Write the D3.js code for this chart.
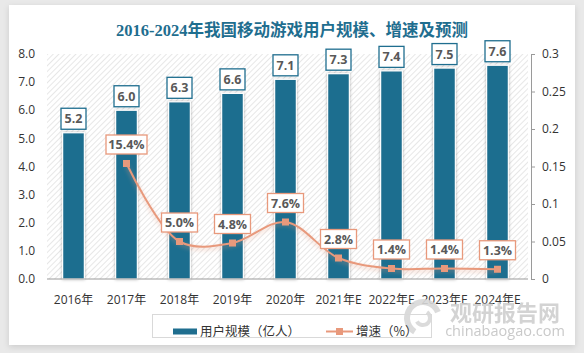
<!DOCTYPE html>
<html>
<head>
<meta charset="utf-8">
<script src="https://cdn.jsdelivr.net/npm/d3@7"></script>
<style>
  body { margin: 0; background: #e9e9e9; }
  svg { display: block; }
</style>
</head>
<body>
<svg id="chart" width="584" height="353"></svg>
<script>
var categories = ["2016年", "2017年", "2018年", "2019年", "2020年", "2021年E", "2022年E", "2023年E", "2024年E"];
var users = [5.2, 6.0, 6.3, 6.6, 7.1, 7.3, 7.4, 7.5, 7.6];
var growth = [null, 0.154, 0.050, 0.048, 0.076, 0.028, 0.014, 0.014, 0.013];
var growth_labels = [null, "15.4%", "5.0%", "4.8%", "7.6%", "2.8%", "1.4%", "1.4%", "1.3%"];
var left_ticks = [0, 1, 2, 3, 4, 5, 6, 7, 8];
var right_ticks = [0, 0.05, 0.1, 0.15, 0.2, 0.25, 0.3];

var bar_color = "#1f6e8f",
  line_color = "#e8997c",
  label_color = "#595959";

var margin = {top: 54, right: 54, bottom: 74, left: 47},
  width = 584 - margin.left - margin.right,
  height = 353 - margin.top - margin.bottom;

var svg = d3.select("#chart");
var defs = svg.append("defs");

var pattern = defs.append("pattern")
  .attr("id", "hatch")
  .attr("patternUnits", "userSpaceOnUse")
  .attr("width", 4)
  .attr("height", 4)
  .attr("patternTransform", "rotate(45)");
pattern.append("rect").attr("width", 4).attr("height", 4).attr("fill", "#fff");
pattern.append("line")
  .attr("x1", 0).attr("y1", 0).attr("x2", 0).attr("y2", 4)
  .attr("stroke", "#d4d4d4").attr("stroke-width", 1.1);

var shadow = defs.append("filter").attr("id", "shadow")
  .attr("x", "-30%").attr("y", "-10%").attr("width", "160%").attr("height", "120%");
shadow.append("feDropShadow").attr("dx", 0).attr("dy", 0).attr("stdDeviation", 1.5)
  .attr("flood-color", "#000").attr("flood-opacity", 0.3);

var glow = defs.append("filter").attr("id", "glow")
  .attr("x", "-10%").attr("y", "-10%").attr("width", "120%").attr("height", "130%");
glow.append("feDropShadow").attr("dx", 0).attr("dy", 2).attr("stdDeviation", 2)
  .attr("flood-color", line_color).attr("flood-opacity", 0.5);

// white card
svg.append("rect")
  .attr("x", 9).attr("y", 5).attr("width", 566).attr("height", 340)
  .attr("fill", "#fff")
  .style("filter", "drop-shadow(0px 2px 3px rgba(0,0,0,0.12))");

svg.append("text")
  .attr("x", 292)
  .attr("y", 36)
  .attr("text-anchor", "middle")
  .style("font", "bold 16.5px 'Liberation Serif', 'Noto Sans CJK SC', serif")
  .style("fill", bar_color)
  .text("2016-2024年我国移动游戏用户规模、增速及预测");

var chart = svg.append("g")
  .attr("transform", "translate(" + margin.left + "," + margin.top + ")");

var x_scaler = d3.scaleBand()
  .domain(categories)
  .range([0, width - 6])
  .paddingInner(0.59)
  .paddingOuter(0.295);

var y_scaler = d3.scaleLinear().domain([0, 8]).range([height, 0]);
var y2_scaler = d3.scaleLinear().domain([0, 0.3]).range([height, 0]);

chart.append("rect")
  .attr("x", 0).attr("y", 0)
  .attr("width", width - 2).attr("height", height)
  .attr("fill", "url(#hatch)");

// left axis labels
chart.selectAll(".ylab")
  .data(left_ticks)
  .enter().append("text")
  .attr("class", "ylab")
  .attr("x", -12)
  .attr("y", function(d) { return y_scaler(d); })
  .attr("dy", "0.35em")
  .attr("text-anchor", "end")
  .style("font", "12px 'Open Sans', 'Liberation Sans', sans-serif")
  .style("fill", "#333")
  .text(function(d) { return d3.format(".1f")(d); });

// right axis
var right_axis = chart.append("g")
  .attr("transform", "translate(" + (width + 1) + ",0)")
  .call(d3.axisRight(y2_scaler).tickValues(right_ticks).tickSize(4).tickPadding(7)
    .tickFormat(function(d) { return d === 0 ? "0" : d3.format("")(+d.toFixed(2)); }));
right_axis.select(".domain").attr("stroke", "#9a9a9a");
right_axis.selectAll(".tick line").attr("stroke", "#9a9a9a");
right_axis.selectAll("text")
  .style("font", "12px 'Open Sans', 'Liberation Sans', sans-serif")
  .style("fill", "#333");

// bars
chart.selectAll(".bar")
  .data(users)
  .enter().append("rect")
  .attr("class", "bar")
  .attr("x", function(d, i) { return x_scaler(categories[i]); })
  .attr("y", function(d) { return y_scaler(d); })
  .attr("width", x_scaler.bandwidth())
  .attr("height", function(d) { return height - y_scaler(d); })
  .style("fill", bar_color)
  .style("stroke", "#fff")
  .style("stroke-width", 1.2)
  .style("filter", "url(#shadow)");

// x axis line
chart.append("line")
  .attr("x1", 0).attr("x2", width - 2)
  .attr("y1", height).attr("y2", height)
  .attr("stroke", "#9a9a9a").attr("stroke-width", 1);

chart.selectAll(".xlab")
  .data(categories)
  .enter().append("text")
  .attr("class", "xlab")
  .attr("x", function(d) { return x_scaler(d) + x_scaler.bandwidth() / 2; })
  .attr("y", height + 25)
  .attr("text-anchor", "middle")
  .style("font", "12px 'Open Sans', 'Noto Sans CJK SC', sans-serif")
  .style("fill", "#333")
  .text(function(d) { return d; });

// bar labels
var bar_labels = chart.selectAll(".bar-label")
  .data(users)
  .enter().append("g")
  .attr("class", "bar-label")
  .attr("transform", function(d, i) {
    return "translate(" + (x_scaler(categories[i]) + x_scaler.bandwidth() / 2) + "," + (y_scaler(d) - 14) + ")";
  });
bar_labels.append("rect")
  .attr("x", -12.5).attr("y", -10.5)
  .attr("width", 25).attr("height", 21)
  .attr("fill", "#fff")
  .attr("stroke", bar_color)
  .attr("stroke-width", 1.3);
bar_labels.append("text")
  .attr("text-anchor", "middle")
  .attr("dy", "0.36em")
  .style("font", "bold 12.5px 'Open Sans', 'Liberation Sans', sans-serif")
  .style("fill", label_color)
  .text(function(d) { return d3.format(".1f")(d); });

// growth line
var growth_points = growth.map(function(v, i) { return {cat: categories[i], v: v, label: growth_labels[i]}; })
  .filter(function(d) { return d.v !== null; });

var line = d3.line()
  .x(function(d) { return x_scaler(d.cat) + x_scaler.bandwidth() / 2; })
  .y(function(d) { return y2_scaler(d.v); })
  .curve(d3.curveCatmullRom.alpha(0.5));

chart.append("path")
  .datum(growth_points)
  .attr("d", line)
  .attr("fill", "none")
  .attr("stroke", line_color)
  .attr("stroke-width", 2)
  .style("filter", "url(#glow)");

chart.selectAll(".marker")
  .data(growth_points)
  .enter().append("rect")
  .attr("class", "marker")
  .attr("x", function(d) { return x_scaler(d.cat) + x_scaler.bandwidth() / 2 - 3.5; })
  .attr("y", function(d) { return y2_scaler(d.v) - 3.5; })
  .attr("width", 7).attr("height", 7)
  .attr("fill", line_color);

var line_labels = chart.selectAll(".line-label")
  .data(growth_points)
  .enter().append("g")
  .attr("class", "line-label")
  .attr("transform", function(d) {
    return "translate(" + (x_scaler(d.cat) + x_scaler.bandwidth() / 2) + "," + (y2_scaler(d.v) - 19) + ")";
  });
line_labels.append("rect")
  .attr("x", function(d) { return d.label.length > 4 ? -20.5 : -18; })
  .attr("y", -9.5)
  .attr("width", function(d) { return d.label.length > 4 ? 41 : 36; })
  .attr("height", 19)
  .attr("fill", "#fff")
  .attr("stroke", line_color)
  .attr("stroke-width", 1.3);
line_labels.append("text")
  .attr("text-anchor", "middle")
  .attr("dy", "0.36em")
  .style("font", "bold 12.5px 'Open Sans', 'Liberation Sans', sans-serif")
  .style("fill", label_color)
  .text(function(d) { return d.label; });

// watermark
var wm = svg.append("g").style("opacity", 0.9);
wm.append("path")
  .attr("d", d3.arc()({innerRadius: 13, outerRadius: 19, startAngle: -2.6, endAngle: 1.2}))
  .attr("transform", "translate(423,318)")
  .attr("fill", "#d8d8d8");
wm.append("path")
  .attr("d", d3.arc()({innerRadius: 5, outerRadius: 9, startAngle: 0.6, endAngle: 4.2}))
  .attr("transform", "translate(423,318)")
  .attr("fill", "#d8d8d8");
wm.append("text")
  .attr("x", 505).attr("y", 321)
  .attr("text-anchor", "middle")
  .style("font", "bold 22px 'Noto Sans CJK SC', sans-serif")
  .style("fill", "#cfcfcf")
  .text("观研报告网");
wm.append("text")
  .attr("x", 505).attr("y", 336)
  .attr("text-anchor", "middle")
  .style("font", "14.5px 'Open Sans', 'DejaVu Sans', sans-serif")
  .style("fill", "#c4c4c4")
  .text("chinabaogao.com");

// legend
var legend = svg.append("g");
legend.append("rect")
  .attr("x", 152.5).attr("y", 314.5)
  .attr("width", 279).attr("height", 23)
  .attr("fill", "none")
  .attr("stroke", "#d9d9d9");
legend.append("rect")
  .attr("x", 173).attr("y", 328.5)
  .attr("width", 24).attr("height", 6)
  .attr("fill", bar_color);
legend.append("text")
  .attr("x", 200).attr("y", 331.5)
  .attr("dy", "0.35em")
  .style("font", "12.5px 'Noto Sans CJK SC', sans-serif")
  .style("fill", "#333")
  .text("用户规模（亿人）");
legend.append("line")
  .attr("x1", 326).attr("x2", 353)
  .attr("y1", 331.5).attr("y2", 331.5)
  .attr("stroke", line_color).attr("stroke-width", 2);
legend.append("rect")
  .attr("x", 336).attr("y", 328).attr("width", 7).attr("height", 7)
  .attr("fill", line_color);
legend.append("text")
  .attr("x", 356).attr("y", 331.5)
  .attr("dy", "0.35em")
  .style("font", "12.5px 'Noto Sans CJK SC', sans-serif")
  .style("fill", "#333")
  .text("增速（%）");
</script>
</body>
</html>
